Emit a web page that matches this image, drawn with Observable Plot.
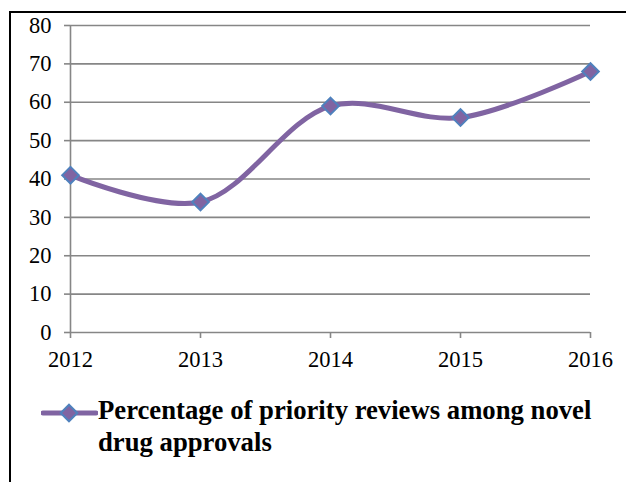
<!DOCTYPE html>
<html>
<head>
<meta charset="utf-8">
<script src="https://cdn.jsdelivr.net/npm/d3@7"></script>
<script src="https://cdn.jsdelivr.net/npm/@observablehq/plot@0.6"></script>
<style>
  html, body { margin: 0; padding: 0; background: #fff; overflow: hidden; width: 626px; height: 482px; }
  #wrap { position: relative; width: 626px; height: 482px; }
  #frame { position: absolute; left: 9px; top: 11px; width: 700px; height: 600px; border-left: 2px solid #000; border-top: 2px solid #000; box-sizing: border-box; }
  #chart { position: absolute; left: 0; top: 0; }
  #legend { position: absolute; left: 41px; top: 394px; display: flex; align-items: flex-start; }
  #legend svg { flex: none; margin-top: 9px; }
  #legend .txt { font-family: "Liberation Serif", "Times New Roman", serif; font-weight: bold; font-size: 26.7px; line-height: 32px; width: 512px; color: #000; }
</style>
</head>
<body>
<div id="wrap">
  <div id="frame"></div>
  <div id="chart"></div>
  <div id="legend"></div>
</div>
<script>
const years = [2012, 2013, 2014, 2015, 2016];
const values = [41, 34, 59, 56, 68];
const yTicks = [0, 10, 20, 30, 40, 50, 60, 70, 80];
const seriesLabel = "Percentage of priority reviews among novel drug approvals";

const lineColor = "#8064A2";
const markerStroke = "#4F81BD";
const gridColor = "#868686";

const data = years.map((y, i) => ({year: y, value: values[i]}));

const chart = Plot.plot({
  width: 626,
  height: 380,
  marginLeft: 70,
  marginRight: 36,
  marginTop: 25,
  marginBottom: 48,
  x: {domain: [2012, 2016]},
  y: {domain: [0, 80]},
  style: {fontFamily: "Liberation Serif, Times New Roman, serif", fontSize: "22.5px", color: "#000", background: "transparent", overflow: "visible"},
  marks: [
    Plot.gridY(yTicks, {stroke: gridColor, strokeOpacity: 1, strokeWidth: 1.6}),
    Plot.ruleX([years[0]], {stroke: gridColor, strokeWidth: 1.6}),
    Plot.axisY({ticks: yTicks, tickSize: 6, tickPadding: 13, stroke: gridColor, strokeWidth: 1.6, fill: "#000", label: null}),
    Plot.axisX({ticks: years, tickSize: 6, tickPadding: 13, tickFormat: d => String(d), stroke: gridColor, strokeWidth: 1.6, fill: "#000", label: null}),
    Plot.line(data, {x: "year", y: "value", curve: "catmull-rom", stroke: lineColor, strokeWidth: 5, strokeLinecap: "round"}),
    Plot.dot(data, {x: "year", y: "value", symbol: "diamond2", r: 7.5, fill: lineColor, stroke: markerStroke, strokeWidth: 2})
  ]
});
document.getElementById("chart").appendChild(chart);

// legend
const legend = document.getElementById("legend");
const ns = "http://www.w3.org/2000/svg";
const icon = document.createElementNS(ns, "svg");
icon.setAttribute("width", 57);
icon.setAttribute("height", 20);
const ln = document.createElementNS(ns, "line");
ln.setAttribute("x1", 2); ln.setAttribute("x2", 55); ln.setAttribute("y1", 10); ln.setAttribute("y2", 10);
ln.setAttribute("stroke", lineColor); ln.setAttribute("stroke-width", 5); ln.setAttribute("stroke-linecap", "round");
icon.appendChild(ln);
const sym = document.createElementNS(ns, "path");
sym.setAttribute("d", d3.symbol(d3.symbolDiamond2, Math.PI * 7.5 * 7.5)());
sym.setAttribute("transform", "translate(28,10)");
sym.setAttribute("fill", lineColor); sym.setAttribute("stroke", markerStroke); sym.setAttribute("stroke-width", 2);
icon.appendChild(sym);
legend.appendChild(icon);
const txt = document.createElement("div");
txt.className = "txt";
txt.textContent = seriesLabel;
legend.appendChild(txt);
</script>
</body>
</html>
